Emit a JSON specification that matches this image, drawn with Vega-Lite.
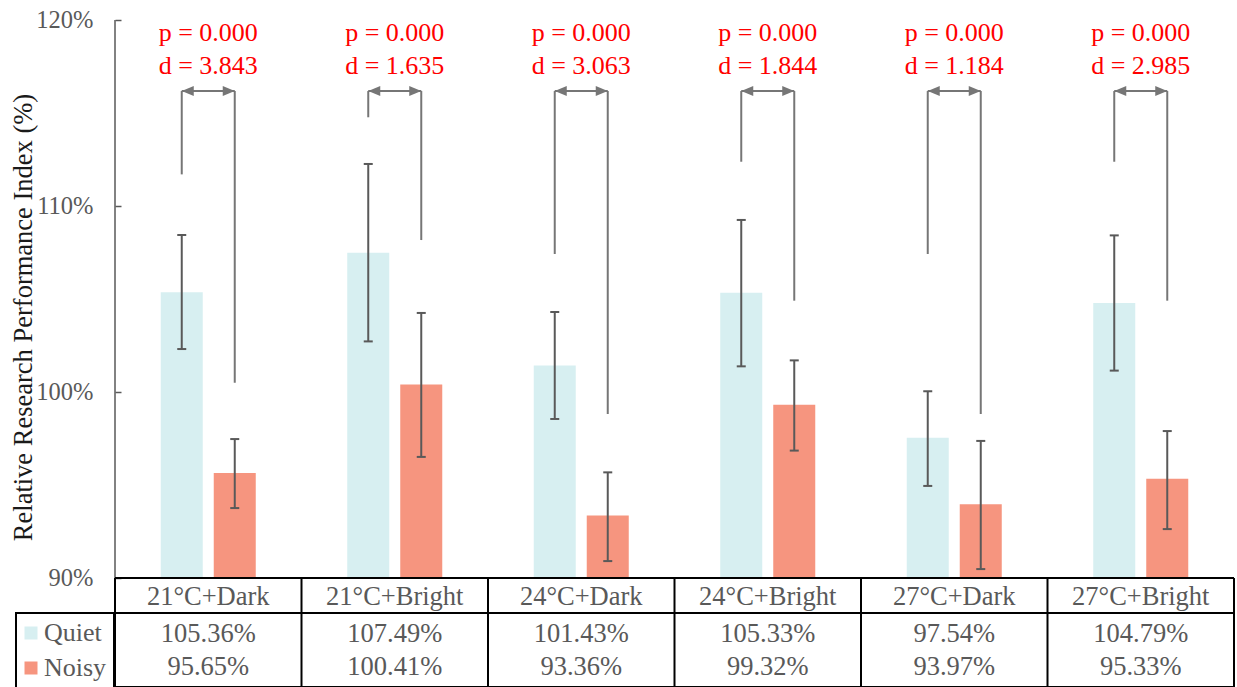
{
  "$schema": "https://vega.github.io/schema/vega-lite/v6.json",
  "width": 1119,
  "height": 667,
  "autosize": {"type": "none"},
  "padding": {"left": 115, "top": 20, "right": 3, "bottom": 0},
  "background": "white",
  "config": {
    "view": {"stroke": null},
    "font": "Liberation Serif",
    "legend": {"strokeWidth": 2}
  },
  "datasets": {
    "bars": [
      {"cat": "21°C+Dark", "series": "Quiet", "mean": 1.0536, "lo": 1.0231, "hi": 1.0844, "bracket": 1.1170},
      {"cat": "21°C+Dark", "series": "Noisy", "mean": 0.9565, "lo": 0.9376, "hi": 0.9747, "bracket": 1.0050},
      {"cat": "21°C+Bright", "series": "Quiet", "mean": 1.0749, "lo": 1.0272, "hi": 1.1226, "bracket": 1.1477},
      {"cat": "21°C+Bright", "series": "Noisy", "mean": 1.0041, "lo": 0.9651, "hi": 1.0425, "bracket": 1.0817},
      {"cat": "24°C+Dark", "series": "Quiet", "mean": 1.0143, "lo": 0.9855, "hi": 1.0430, "bracket": 1.0742},
      {"cat": "24°C+Dark", "series": "Noisy", "mean": 0.9336, "lo": 0.9091, "hi": 0.9568, "bracket": 0.9882},
      {"cat": "24°C+Bright", "series": "Quiet", "mean": 1.0533, "lo": 1.0138, "hi": 1.0925, "bracket": 1.1238},
      {"cat": "24°C+Bright", "series": "Noisy", "mean": 0.9932, "lo": 0.9685, "hi": 1.0170, "bracket": 1.0491},
      {"cat": "27°C+Dark", "series": "Quiet", "mean": 0.9754, "lo": 0.9495, "hi": 1.0004, "bracket": 1.0742},
      {"cat": "27°C+Dark", "series": "Noisy", "mean": 0.9397, "lo": 0.9048, "hi": 0.9737, "bracket": 0.9882},
      {"cat": "27°C+Bright", "series": "Quiet", "mean": 1.0479, "lo": 1.0115, "hi": 1.0842, "bracket": 1.1238},
      {"cat": "27°C+Bright", "series": "Noisy", "mean": 0.9533, "lo": 0.9263, "hi": 0.9790, "bracket": 1.0491}
    ],
    "cats": [
      {"cat": "21°C+Dark", "p": 0.0, "d": 3.843},
      {"cat": "21°C+Bright", "p": 0.0, "d": 1.635},
      {"cat": "24°C+Dark", "p": 0.0, "d": 3.063},
      {"cat": "24°C+Bright", "p": 0.0, "d": 1.844},
      {"cat": "27°C+Dark", "p": 0.0, "d": 1.184},
      {"cat": "27°C+Bright", "p": 0.0, "d": 2.985}
    ]
  },
  "layer": [
    {
      "data": {"name": "bars"},
      "mark": {"type": "bar"},
      "encoding": {
        "x": {"field": "cat", "type": "nominal", "axis": null, "scale": {"domain": ["21°C+Dark", "21°C+Bright", "24°C+Dark", "24°C+Bright", "27°C+Dark", "27°C+Bright"], "paddingInner": 0, "paddingOuter": 0}},
        "xOffset": {"field": "series", "type": "nominal", "scale": {"domain": ["Quiet", "Noisy"], "paddingInner": 0.2075, "paddingOuter": 0.863}},
        "y": {
          "field": "mean", "type": "quantitative",
          "scale": {"domain": [0.8414, 1.2], "nice": false, "zero": false},
          "axis": {
            "title": "Relative Research Performance Index (%)",
            "values": [0.9, 1.0, 1.1, 1.2],
            "format": ".0%",
            "domain": false,
            "grid": false,
            "ticks": true,
            "tickSize": -6,
            "tickColor": "#595959",
            "tickWidth": 1.5,
            "labelPadding": 28,
            "labelFlush": false,
            "labelOverlap": false,
            "labelFont": "Liberation Serif",
            "labelFontSize": 24.5,
            "labelColor": "#595959",
            "titleFont": "Liberation Serif",
            "titleFontSize": 26.5,
            "titleFontWeight": "normal",
            "titleColor": "#1a1a1a",
            "titleX": -78,
            "titleY": 297
          }
        },
        "y2": {"datum": 0.9},
        "color": {
          "field": "series", "type": "nominal",
          "scale": {"domain": ["Quiet", "Noisy"], "range": ["#d7eff1", "#f6957f"]},
          "legend": {
            "orient": "none",
            "legendX": -99,
            "legendY": 593,
            "title": null,
            "symbolType": "square",
            "symbolSize": 169,
            "symbolStrokeWidth": 0,
            "symbolOffset": -5,
            "labelFont": "Liberation Serif",
            "labelFontSize": 26,
            "labelColor": "#595959",
            "labelOffset": 0,
            "rowPadding": 9,
            "padding": 7,
            "strokeColor": "black"
          }
        }
      }
    },
    {
      "data": {"name": "bars"},
      "mark": {"type": "rule", "color": "#595959", "strokeWidth": 2},
      "encoding": {
        "x": {"field": "cat", "type": "nominal", "axis": null},
        "xOffset": {"field": "series", "type": "nominal"},
        "y": {"field": "lo", "type": "quantitative"},
        "y2": {"field": "hi"}
      }
    },
    {
      "data": {"name": "bars"},
      "mark": {"type": "tick", "color": "#595959", "size": 9, "thickness": 2, "opacity": 1},
      "encoding": {
        "x": {"field": "cat", "type": "nominal", "axis": null},
        "xOffset": {"field": "series", "type": "nominal"},
        "y": {"field": "lo", "type": "quantitative"}
      }
    },
    {
      "data": {"name": "bars"},
      "mark": {"type": "tick", "color": "#595959", "size": 9, "thickness": 2, "opacity": 1},
      "encoding": {
        "x": {"field": "cat", "type": "nominal", "axis": null},
        "xOffset": {"field": "series", "type": "nominal"},
        "y": {"field": "hi", "type": "quantitative"}
      }
    },
    {
      "data": {"name": "bars"},
      "mark": {"type": "rule", "color": "#767676", "strokeWidth": 2},
      "encoding": {
        "x": {"field": "cat", "type": "nominal", "axis": null},
        "xOffset": {"field": "series", "type": "nominal"},
        "y": {"field": "bracket", "type": "quantitative"},
        "y2": {"datum": 1.1618}
      }
    },
    {
      "data": {"name": "bars"},
      "mark": {"type": "line", "color": "#767676", "strokeWidth": 2},
      "encoding": {
        "x": {"field": "cat", "type": "nominal", "axis": null},
        "xOffset": {"field": "series", "type": "nominal"},
        "y": {"datum": 1.1618, "type": "quantitative"},
        "detail": {"field": "cat", "type": "nominal"}
      }
    },
    {
      "data": {"name": "bars"},
      "transform": [{"filter": "datum.series == 'Quiet'"}],
      "mark": {"type": "point", "filled": true, "color": "#767676", "size": 144, "opacity": 1, "strokeWidth": 0, "shape": "M0,0L2,-0.833L2,0.833Z"},
      "encoding": {
        "x": {"field": "cat", "type": "nominal", "axis": null},
        "xOffset": {"field": "series", "type": "nominal"},
        "y": {"datum": 1.1618, "type": "quantitative"}
      }
    },
    {
      "data": {"name": "bars"},
      "transform": [{"filter": "datum.series == 'Noisy'"}],
      "mark": {"type": "point", "filled": true, "color": "#767676", "size": 144, "opacity": 1, "strokeWidth": 0, "shape": "M0,0L-2,-0.833L-2,0.833Z"},
      "encoding": {
        "x": {"field": "cat", "type": "nominal", "axis": null},
        "xOffset": {"field": "series", "type": "nominal"},
        "y": {"datum": 1.1618, "type": "quantitative"}
      }
    },
    {
      "data": {"name": "cats"},
      "transform": [{"calculate": "'p = ' + format(datum.p, '.3f')", "as": "ptxt"}],
      "mark": {"type": "text", "color": "#ff0000", "fontSize": 26, "font": "Liberation Serif", "baseline": "alphabetic", "align": "center"},
      "encoding": {
        "x": {"field": "cat", "type": "nominal", "axis": null},
        "y": {"datum": 1.1887, "type": "quantitative"},
        "text": {"field": "ptxt", "type": "nominal"}
      }
    },
    {
      "data": {"name": "cats"},
      "transform": [{"calculate": "'d = ' + format(datum.d, '.3f')", "as": "dtxt"}],
      "mark": {"type": "text", "color": "#ff0000", "fontSize": 26, "font": "Liberation Serif", "baseline": "alphabetic", "align": "center"},
      "encoding": {
        "x": {"field": "cat", "type": "nominal", "axis": null},
        "y": {"datum": 1.1712, "type": "quantitative"},
        "text": {"field": "dtxt", "type": "nominal"}
      }
    },
    {
      "data": {"name": "cats"},
      "mark": {"type": "text", "color": "#595959", "fontSize": 26.5, "font": "Liberation Serif", "baseline": "alphabetic", "align": "center"},
      "encoding": {
        "x": {"field": "cat", "type": "nominal", "axis": null},
        "y": {"datum": 0.8855, "type": "quantitative"},
        "text": {"field": "cat", "type": "nominal"}
      }
    },
    {
      "data": {"name": "bars"},
      "transform": [{"filter": "datum.series == 'Quiet'"}],
      "mark": {"type": "text", "color": "#595959", "fontSize": 26.5, "font": "Liberation Serif", "baseline": "alphabetic", "align": "center"},
      "encoding": {
        "x": {"field": "cat", "type": "nominal", "axis": null},
        "y": {"datum": 0.8658, "type": "quantitative"},
        "text": {"field": "mean", "type": "quantitative", "format": ".2%"}
      }
    },
    {
      "data": {"name": "bars"},
      "transform": [{"filter": "datum.series == 'Noisy'"}],
      "mark": {"type": "text", "color": "#595959", "fontSize": 26.5, "font": "Liberation Serif", "baseline": "alphabetic", "align": "center"},
      "encoding": {
        "x": {"field": "cat", "type": "nominal", "axis": null},
        "y": {"datum": 0.8479, "type": "quantitative"},
        "text": {"field": "mean", "type": "quantitative", "format": ".2%"}
      }
    },
    {
      "data": {"name": "cats"},
      "mark": {"type": "rule", "color": "black", "strokeWidth": 2},
      "encoding": {
        "x": {"field": "cat", "type": "nominal", "axis": null, "bandPosition": 0},
        "y": {"datum": 0.9, "type": "quantitative"},
        "y2": {"datum": 0.8414}
      }
    },
    {
      "data": {"name": "cats"},
      "transform": [{"filter": "datum.cat == '27°C+Bright'"}],
      "mark": {"type": "rule", "color": "black", "strokeWidth": 2},
      "encoding": {
        "x": {"field": "cat", "type": "nominal", "axis": null, "bandPosition": 1},
        "y": {"datum": 0.9, "type": "quantitative"},
        "y2": {"datum": 0.8414}
      }
    },
    {
      "data": {"name": "cats"},
      "transform": [{"filter": "datum.cat == '21°C+Dark'"}],
      "mark": {"type": "rule", "color": "#595959", "strokeWidth": 1.5},
      "encoding": {
        "x": {"field": "cat", "type": "nominal", "axis": null, "bandPosition": 0},
        "y": {"datum": 0.9, "type": "quantitative"},
        "y2": {"datum": 1.2}
      }
    },
    {
      "data": {"values": [{"level": 0.9}, {"level": 0.8812}, {"level": 0.8414}]},
      "mark": {"type": "rule", "color": "black", "strokeWidth": 2},
      "encoding": {
        "y": {"field": "level", "type": "quantitative"}
      }
    }
  ]
}
